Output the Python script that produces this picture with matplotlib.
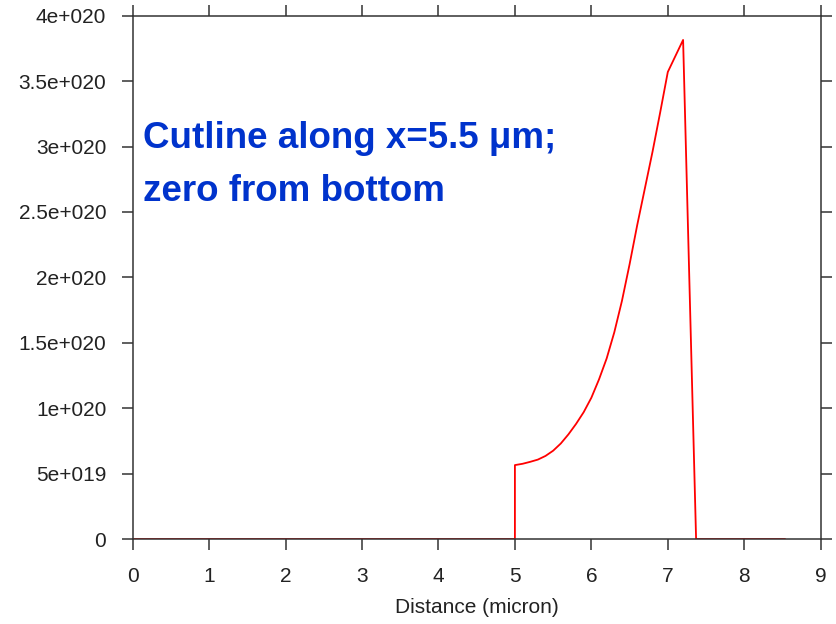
import matplotlib
matplotlib.use('Agg')
import matplotlib.pyplot as plt
from matplotlib.ticker import FuncFormatter, MultipleLocator

# cutline data: distance (micron) vs concentration
distance = [0.0, 5.0, 5.0, 5.1, 5.2, 5.3, 5.4, 5.5, 5.6, 5.7, 5.8, 5.9, 6.0,
            6.1, 6.2, 6.3, 6.4, 6.5, 6.6, 6.7, 6.8, 6.9, 7.0, 7.2, 7.37, 8.53]
conc = [0.0, 0.0, 0.565e20, 0.575e20, 0.59e20, 0.607e20, 0.635e20, 0.675e20,
        0.73e20, 0.80e20, 0.88e20, 0.97e20, 1.08e20, 1.22e20, 1.38e20, 1.58e20,
        1.82e20, 2.10e20, 2.40e20, 2.68e20, 2.96e20, 3.26e20, 3.57e20, 3.815e20,
        0.0, 0.0]

title_lines = ["Cutline along x=5.5 \u03bcm;", "zero from bottom"]
xlabel = "Distance (micron)"

fam = ['Liberation Sans', 'DejaVu Sans']


def sci_fmt(v, pos):
    if v == 0:
        return "0"
    s = "%.1e" % v
    mant, exp = s.split("e")
    if mant.endswith(".0"):
        mant = mant[:-2]
    sign = exp[0]
    return "%se%s%03d" % (mant, sign, abs(int(exp)))


fig = plt.figure(figsize=(8.36, 6.24), dpi=100)
ax = fig.add_axes([0.1587, 0.1362, 0.9817 - 0.1587, 0.9748 - 0.1362])

ax.plot(distance, conc, color='#ff0000', lw=1.3)

ax.set_xlim(0, 9)
ax.set_ylim(0, 4e20)
ax.xaxis.set_major_locator(MultipleLocator(1))
ax.yaxis.set_major_locator(MultipleLocator(0.5e20))
ax.yaxis.set_major_formatter(FuncFormatter(sci_fmt))

for sp in ax.spines.values():
    sp.set_color('#333333')
    sp.set_linewidth(1.1)
ax.tick_params(which='both', direction='out', length=8, width=1.1, color='#333333',
               top=True, right=True, labelsize=15, labelcolor='#222222')
ax.tick_params(axis='y', pad=11)
ax.tick_params(axis='x', pad=12)
for lab in ax.get_xticklabels() + ax.get_yticklabels():
    lab.set_family(fam)

ax.set_xlabel(xlabel, fontsize=15, family=fam, color='#222222', labelpad=9)

fig.text(143 / 836, 1 - 148 / 624, title_lines[0], color='#0033cc', fontsize=26.5,
         fontweight='bold', family=fam, va='baseline')
fig.text(143 / 836, 1 - 201 / 624, title_lines[1], color='#0033cc', fontsize=26.5,
         fontweight='bold', family=fam, va='baseline')

fig.savefig('out.png', dpi=100)
